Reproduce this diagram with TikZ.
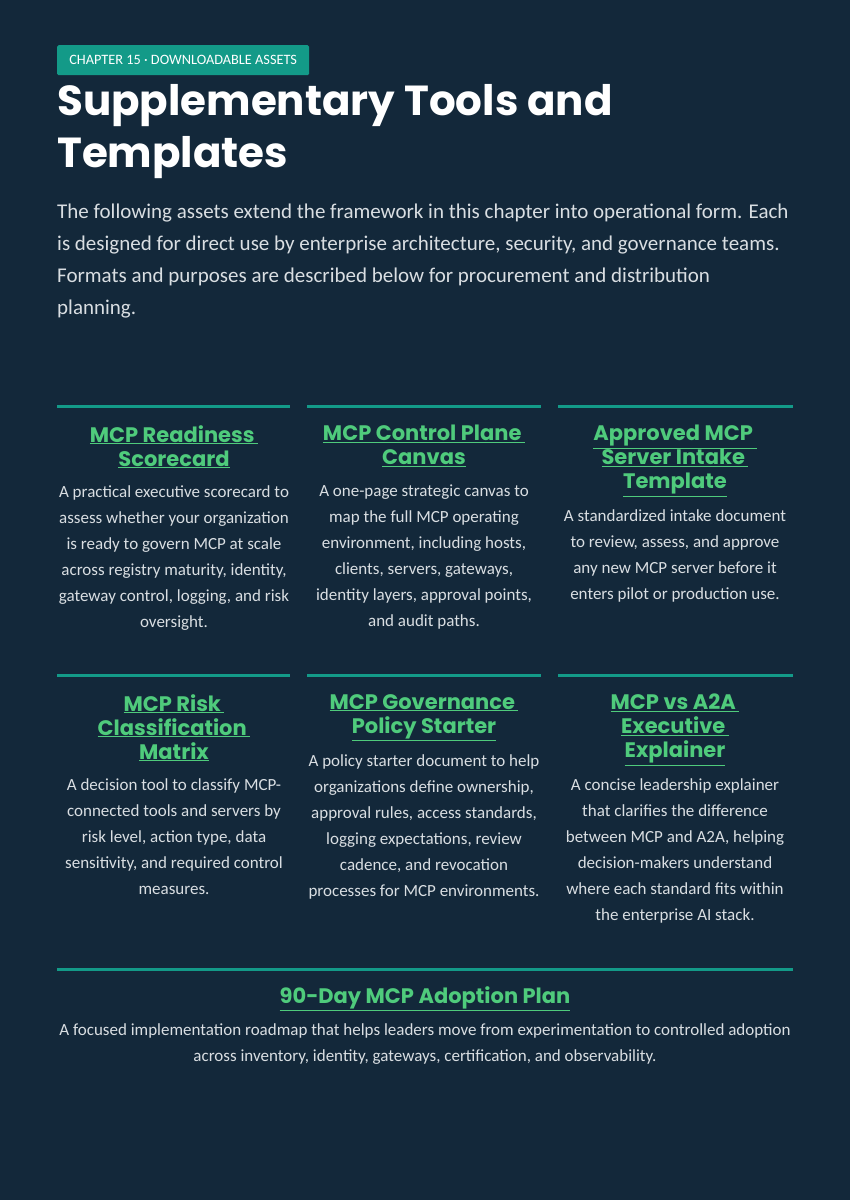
\documentclass[tikz,border=0pt]{standalone}
\usepackage{fontspec}
\setmainfont{Carlito}
\newfontfamily\headf{Poppins}
\definecolor{bg}{HTML}{13283A}
\definecolor{teal}{HTML}{139A88}
\definecolor{grn}{HTML}{4FCB7C}
\definecolor{txt}{HTML}{D9DEE2}
\begin{document}
\begin{tikzpicture}[x=1pt,y=-1pt,
 rule/.style={teal,line width=3pt},
 head/.style={anchor=north,align=center,text=grn,font=\headf\bfseries\fontsize{21}{24}\selectfont,inner sep=0},
 body/.style={anchor=north,align=center,text=txt,font=\fontsize{17}{26}\selectfont,inner sep=0}]
\fill[bg] (0,0) rectangle (850,1200);
\node[fill=teal,rounded corners=1.5pt,text=white,font=\fontsize{14.3}{16}\selectfont,minimum width=252,minimum height=30,inner sep=0,anchor=north west] (tag) at (57,45) {CHAPTER 15 · DOWNLOADABLE ASSETS};
\node[anchor=north west,align=left,text=white,font=\headf\bfseries\fontsize{42}{52}\selectfont,inner sep=0] (title) at (57,84) {Supplementary Tools and\\Templates};
\node[anchor=north west,align=left,text=txt,font=\fontsize{21}{32}\selectfont,inner sep=0] (intro) at (57,204) {The following assets extend the framework in this chapter into operational form. Each\\is designed for direct use by enterprise architecture, security, and governance teams.\\Formats and purposes are described below for procurement and distribution\\planning.};
% row 1
\draw[rule] (57,406) -- (290,406);
\draw[rule] (307,406) -- (541,406);
\draw[rule] (558,406) -- (793,406);
\node[head] (h1) at (174,425) {\underline{MCP Readiness\,}\\\underline{Scorecard}};
\node[body] (b1) at (174,485) {A practical executive scorecard to\\assess whether your organization\\is ready to govern MCP at scale\\across registry maturity, identity,\\gateway control, logging, and risk\\oversight.};
\node[head] (h2) at (424,425) {\underline{MCP Control Plane\,}\\\underline{Canvas}};
\node[body] (b2) at (424,485) {A one-page strategic canvas to\\map the full MCP operating\\environment, including hosts,\\clients, servers, gateways,\\identity layers, approval points,\\and audit paths.};
\node[head] (h3) at (675,425) {\underline{Approved MCP\,}\\\underline{Server Intake\,}\\\underline{Template}};
\node[body] (b3) at (675,509) {A standardized intake document\\to review, assess, and approve\\any new MCP server before it\\enters pilot or production use.};
% row 2
\draw[rule] (57,675) -- (290,675);
\draw[rule] (307,675) -- (541,675);
\draw[rule] (558,675) -- (793,675);
\node[head] (h4) at (174,694) {\underline{MCP Risk\,}\\\underline{Classification\,}\\\underline{Matrix}};
\node[body] (b4) at (174,778) {A decision tool to classify MCP-\\connected tools and servers by\\risk level, action type, data\\sensitivity, and required control\\measures.};
\node[head] (h5) at (424,694) {\underline{MCP Governance\,}\\\underline{Policy Starter}};
\node[body] (b5) at (424,754) {A policy starter document to help\\organizations define ownership,\\approval rules, access standards,\\logging expectations, review\\cadence, and revocation\\processes for MCP environments.};
\node[head] (h6) at (675,694) {\underline{MCP vs A2A\,}\\\underline{Executive\,}\\\underline{Explainer}};
\node[body] (b6) at (675,778) {A concise leadership explainer\\that clarifies the difference\\between MCP and A2A, helping\\decision-makers understand\\where each standard fits within\\the enterprise AI stack.};
% bottom
\draw[rule] (57,969) -- (793,969);
\node[head] (h7) at (425,986) {\underline{90-Day MCP Adoption Plan}};
\node[body] (b7) at (425,1023) {A focused implementation roadmap that helps leaders move from experimentation to controlled adoption\\across inventory, identity, gateways, certification, and observability.};
\end{tikzpicture}
\end{document}
